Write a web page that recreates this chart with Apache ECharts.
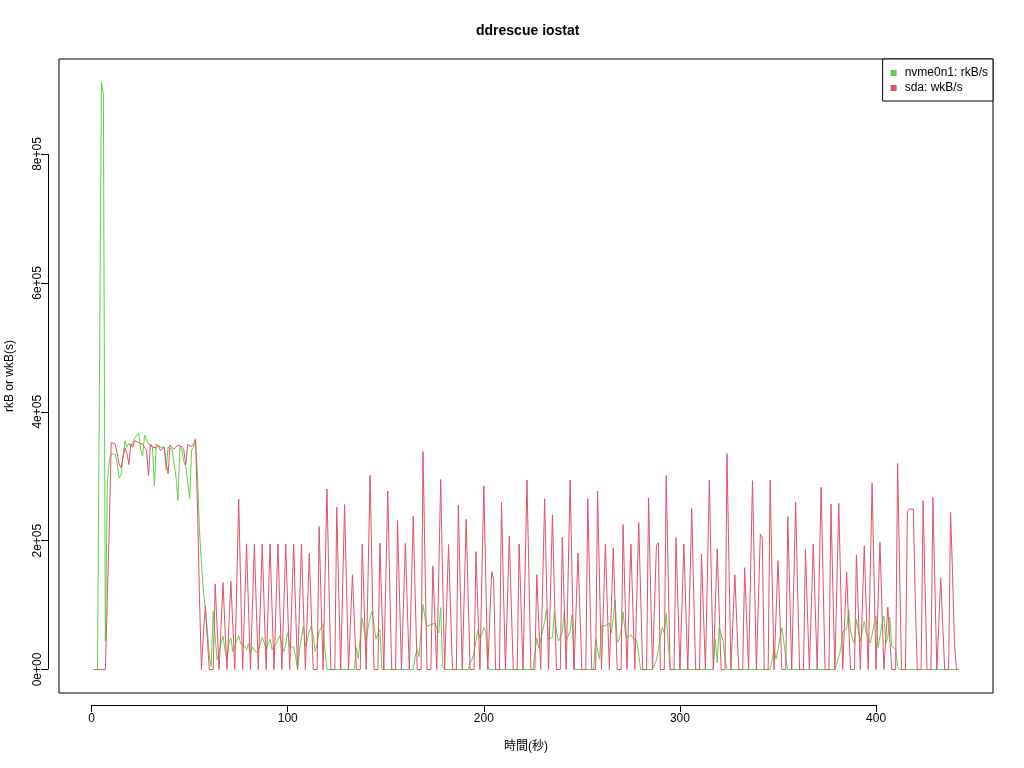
<!DOCTYPE html>
<html><head><meta charset="utf-8">
<script src="https://cdn.jsdelivr.net/npm/echarts@6/dist/echarts.min.js"></script>
<style>html,body{margin:0;padding:0;background:#fff}#c{width:1024px;height:768px}</style>
</head><body><div id="c"></div>
<script>
// Tick positions
const xTicks = [0, 100, 200, 300, 400];
const yTicks = [0, 200000, 400000, 600000, 800000];
// nvme0n1 rkB/s, in thousands, one value per second (t = 1..442)
const nvmeK = [
0,0,0,455,911,893,44,290,325,335,
336,334,320,297,302,330,355,345,351,346,
352,359,362,367,340,331,364,367,350,352,
345,285,350,352,345,348,345,310,345,348,
342,320,300,262,346,340,323,315,290,265,
341,345,352,300,215,165,120,95,60,20,
5,90,50,15,15,40,52,30,15,40,
49,28,25,45,53,40,38,36,31,40,
26,35,30,26,30,40,50,53,33,40,
47,31,32,40,45,53,36,28,40,57,
35,32,35,20,0,30,50,67,36,45,
60,67,52,28,40,59,65,70,30,0,
0,0,0,0,0,0,0,0,0,0,
0,0,0,0,34,17,50,80,60,44,
65,80,90,93,47,55,62,0,0,0,
0,0,0,0,0,0,0,0,0,0,
0,0,0,0,20,31,20,60,101,80,
67,68,70,70,72,72,57,96,5,0,
0,0,0,0,0,0,0,0,0,0,
0,0,10,16,26,45,62,48,55,65,
60,5,0,0,0,0,0,0,0,0,
0,0,0,0,0,0,0,0,0,0,
0,0,0,0,0,0,49,33,47,60,
75,93,47,47,50,89,60,44,50,57,
89,44,47,60,85,0,0,0,0,0,
0,0,0,0,0,0,47,30,16,68,
68,68,70,72,57,80,108,42,47,60,
89,60,49,50,54,48,45,44,47,0,
0,0,0,0,0,0,0,15,31,50,
66,57,87,40,0,0,0,0,0,0,
0,0,0,0,0,0,0,0,0,0,
0,0,0,0,0,0,0,47,10,65,
68,44,16,0,0,0,0,0,0,0,
0,0,0,0,0,0,0,0,0,0,
0,0,0,0,0,0,0,31,16,30,
49,65,42,16,0,0,0,0,0,0,
0,0,0,0,0,0,0,0,0,0,
0,0,0,0,0,0,0,0,0,0,
20,31,59,60,62,93,60,47,40,78,
81,44,47,75,57,50,41,54,70,83,
34,50,70,83,41,50,81,36,34,31,
5,0,0,0,0,0,0,0,0,0,
0,0,0,0,0,0,0,0,0,0,
0,0,0,0,0,0,0,0,0,0,
0,0
];
// sda wkB/s, in thousands, one value per second (t = 1..442)
const sdaK = [
0,0,0,0,0,0,0,0,220,352,
354,350,336,319,313,330,344,335,318,350,
345,355,357,352,355,350,352,340,301,350,
345,345,344,348,340,343,345,320,304,348,
345,342,345,348,346,346,340,318,349,350,
346,350,358,250,110,0,55,98,96,0,
0,0,133,65,0,0,135,66,0,0,
137,68,0,0,264,130,0,0,195,95,
0,0,195,95,0,0,195,95,0,0,
195,95,0,0,195,95,0,0,195,95,
0,0,195,95,0,0,195,95,0,0,
180,88,0,0,0,222,108,0,0,280,
135,0,0,0,252,122,0,0,256,125,
0,0,147,147,0,0,0,195,95,0,
0,301,145,0,0,0,196,95,0,0,
277,135,0,0,0,231,112,0,0,196,
95,0,0,238,115,0,0,0,338,165,
0,0,0,161,78,0,0,295,143,0,
0,194,94,0,0,0,255,124,0,0,
233,113,0,0,0,183,89,0,0,285,
138,0,0,152,140,0,0,0,260,126,
0,0,207,100,0,0,0,195,95,0,
0,294,143,0,0,0,147,71,0,0,
265,129,0,0,240,117,0,0,0,205,
100,0,0,294,143,0,0,181,88,0,
0,0,265,129,0,0,0,277,135,0,
0,195,95,0,0,189,92,0,0,0,
225,110,0,0,195,95,0,0,228,111,
0,0,0,266,130,0,0,192,197,0,
0,0,301,146,0,0,0,205,100,0,
0,195,95,0,0,250,122,0,0,0,
179,87,0,0,294,143,0,0,187,91,
0,0,0,335,163,0,0,147,71,0,
0,0,158,77,0,0,293,143,0,0,
210,205,0,0,0,294,143,0,0,169,
82,0,0,0,237,115,0,0,260,126,
0,0,0,186,90,0,0,195,95,0,
0,283,138,0,0,0,257,125,0,0,
258,126,0,0,151,73,0,0,0,178,
87,0,0,192,94,0,0,289,141,0,
0,198,96,0,0,97,95,0,0,0,
320,156,0,0,0,245,249,249,249,110,
0,0,0,262,128,0,0,0,267,130,
0,0,142,69,0,0,0,244,150,40,
0,0
];
const seconds = nvmeK.map((_, i) => i + 1);
const UNIT = 1000;

const FONT = 'Liberation Sans, Arial, Noto Sans CJK JP, sans-serif';
const GREEN = '#61D04F', RED = '#DF536B';
const yMaxData = Math.max(...nvmeK, ...sdaK) * UNIT;
const xMin = 1 - 0.04 * (seconds.length - 1), xMax = seconds.length + 0.04 * (seconds.length - 1);
const yMin = -0.04 * yMaxData, yMax = yMaxData * 1.04;

function sci(v) {
  if (v === 0) return '0e+00';
  const e = Math.floor(Math.log10(Math.abs(v)) + 1e-9);
  const m = Math.round(v / Math.pow(10, e) * 100) / 100;
  return m + 'e+' + String(e).padStart(2, '0');
}

const chart = echarts.init(document.getElementById('c'), null, {renderer: 'canvas'});
const option = {
  animation: false,
  backgroundColor: '#fff',
  textStyle: {fontFamily: FONT},
  title: {
    text: 'ddrescue iostat', left: 471, top: 19,
    textStyle: {fontFamily: FONT, fontSize: 14, fontWeight: 'bold', color: '#000'}
  },
  legend: {
    orient: 'vertical', right: 31, top: 59,
    backgroundColor: '#fff', borderColor: '#000', borderWidth: 1,
    padding: [8, 5, 7, 8], itemGap: 3, itemWidth: 6, itemHeight: 6,
    icon: 'rect',
    textStyle: {fontFamily: FONT, fontSize: 12, color: '#000', padding: [0, 0, 0, 3]},
    data: ['nvme0n1: rkB/s', 'sda: wkB/s']
  },
  grid: {left: 59, top: 59, right: 31, bottom: 75, show: true, borderColor: '#000', borderWidth: 1,
         backgroundColor: 'transparent', containLabel: false, outerBoundsMode: 'none'},
  xAxis: {
    type: 'value', min: xMin, max: xMax, offset: 12,
    name: '時間(秒)', nameLocation: 'middle', nameGap: 36,
    nameTextStyle: {fontFamily: FONT, fontSize: 12, color: '#000'},
    axisLine: {show: false, onZero: false},
    splitLine: {show: false},
    axisTick: {show: true, customValues: xTicks, length: 7, lineStyle: {color: '#000'}},
    axisLabel: {customValues: xTicks, color: '#000', fontSize: 12, fontFamily: FONT, margin: 8}
  },
  yAxis: {
    type: 'value', min: yMin, max: yMax, offset: 11,
    name: 'rkB or wkB(s)', nameLocation: 'middle', nameGap: 32, nameRotate: 90,
    nameTextStyle: {fontFamily: FONT, fontSize: 12, color: '#000'},
    axisLine: {show: false, onZero: false},
    splitLine: {show: false},
    axisTick: {show: true, customValues: yTicks, length: 7, lineStyle: {color: '#000'}},
    axisLabel: {customValues: yTicks, rotate: 90, color: '#000', fontSize: 12, fontFamily: FONT, margin: 4, formatter: sci}
  },
  series: [
    {name: 'nvme0n1: rkB/s', type: 'line', showSymbol: false, symbol: 'none',
     lineStyle: {color: GREEN, width: 1}, itemStyle: {color: GREEN},
     data: seconds.map((t, i) => [t, nvmeK[i] * UNIT])},
    {name: 'sda: wkB/s', type: 'line', showSymbol: false, symbol: 'none',
     lineStyle: {color: RED, width: 1}, itemStyle: {color: RED},
     data: seconds.map((t, i) => [t, sdaK[i] * UNIT])}
  ]
};
chart.setOption(option);

// R-style detached axis lines spanning first..last tick, positioned via the chart's own scales
const pA = chart.convertToPixel({xAxisIndex: 0, yAxisIndex: 0}, [xTicks[0], yTicks[0]]);
const pB = chart.convertToPixel({xAxisIndex: 0, yAxisIndex: 0}, [xTicks[xTicks.length - 1], yTicks[yTicks.length - 1]]);
const pMin = chart.convertToPixel({xAxisIndex: 0, yAxisIndex: 0}, [xMin, yMin]);
const axX = Math.round(pMin[0]) - 11 + 0.5;
const axY = Math.round(pMin[1]) + 12 + 0.5;
chart.setOption({
  graphic: [
    {type: 'line', shape: {x1: pA[0], y1: axY, x2: pB[0], y2: axY}, style: {stroke: '#000', lineWidth: 1}},
    {type: 'line', shape: {x1: axX, y1: pA[1], x2: axX, y2: pB[1]}, style: {stroke: '#000', lineWidth: 1}}
  ]
});
</script>
</body></html>
